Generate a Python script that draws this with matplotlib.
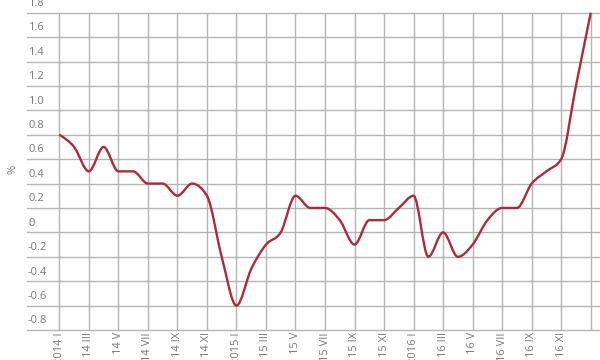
import numpy as np
import matplotlib.pyplot as plt
from matplotlib.path import Path
from matplotlib.patches import PathPatch

# monthly values, 2014 I .. 2017 I
values = [0.8, 0.7, 0.5, 0.7, 0.5, 0.5, 0.4, 0.4, 0.3, 0.4, 0.3, -0.2,
          -0.6, -0.3, -0.1, 0.0, 0.3, 0.2, 0.2, 0.1, -0.1, 0.1, 0.1, 0.2,
          0.3, -0.2, 0.0, -0.2, -0.1, 0.1, 0.2, 0.2, 0.4, 0.5, 0.6, 1.2,
          1.8]
tick_labels = ["2014 I", "14 III", "14 V", "14 VII", "14 IX", "14 XI",
               "2015 I", "15 III", "15 V", "15 VII", "15 IX", "15 XI",
               "2016 I", "16 III", "16 V", "16 VII", "16 IX", "16 XI", ""]
y_ticks = [-0.8, -0.6, -0.4, -0.2, 0, 0.2, 0.4, 0.6, 0.8, 1.0, 1.2, 1.4, 1.6, 1.8]

LINE = "#ac2b36"
GRID = "#b4b4b4"
TEXT = "#777777"

plt.rcParams["font.family"] = ["Open Sans", "DejaVu Sans"]


def monotone_path(x, y):
    # cubic bezier path with monotone tangents (like d3 curveMonotoneX)
    x = np.asarray(x, float)
    y = np.asarray(y, float)
    h = np.diff(x)
    s = np.diff(y) / h
    t = np.zeros(len(x))
    for i in range(1, len(x) - 1):
        p = (s[i - 1] * h[i] + s[i] * h[i - 1]) / (h[i - 1] + h[i])
        t[i] = (np.sign(s[i - 1]) + np.sign(s[i])) * min(abs(s[i - 1]), abs(s[i]), 0.5 * abs(p))
    t[0] = (3 * s[0] - t[1]) / 2
    t[-1] = (3 * s[-1] - t[-2]) / 2
    verts = [(x[0], y[0])]
    codes = [Path.MOVETO]
    for i in range(len(x) - 1):
        dx = h[i] / 3
        verts += [(x[i] + dx, y[i] + dx * t[i]),
                  (x[i + 1] - dx, y[i + 1] - dx * t[i + 1]),
                  (x[i + 1], y[i + 1])]
        codes += [Path.CURVE4] * 3
    return Path(verts, codes)


def main():
    fig = plt.figure(figsize=(6, 3.6), dpi=100)
    ax = fig.add_axes([0.045, 0.0833, 0.955, 0.8814])

    months = np.arange(len(values))
    ax.add_patch(PathPatch(monotone_path(months, values), facecolor="none",
                           edgecolor=LINE, lw=1.7, zorder=3, clip_on=False))

    ax.set_xlim(-2.19, 36.63)
    ax.set_ylim(-0.8, 1.8)

    for v in y_ticks:
        ax.axhline(v, color=GRID, lw=1, zorder=1, clip_on=False)
        ax.text(-2.12, v + 0.03, f"{v:.1f}" if v != 0 else "0", color=TEXT,
                fontsize=8, ha="left", va="bottom")
    xt = np.arange(0, 37, 2)
    for m in xt:
        ax.axvline(m, color=GRID, lw=1, zorder=1)

    ax.set_xticks(xt)
    ax.set_xticklabels(tick_labels, rotation=90, fontsize=8, color=TEXT,
                       va="top", ha="center")
    ax.tick_params(axis="x", length=0, pad=1.5)
    ax.set_yticks([])
    for sp in ax.spines.values():
        sp.set_visible(False)

    fig.text(0.022, 0.53, "%", rotation=90, fontsize=8, color=TEXT,
             ha="center", va="center")

    fig.savefig("out.png", dpi=100)


if __name__ == "__main__":
    main()
